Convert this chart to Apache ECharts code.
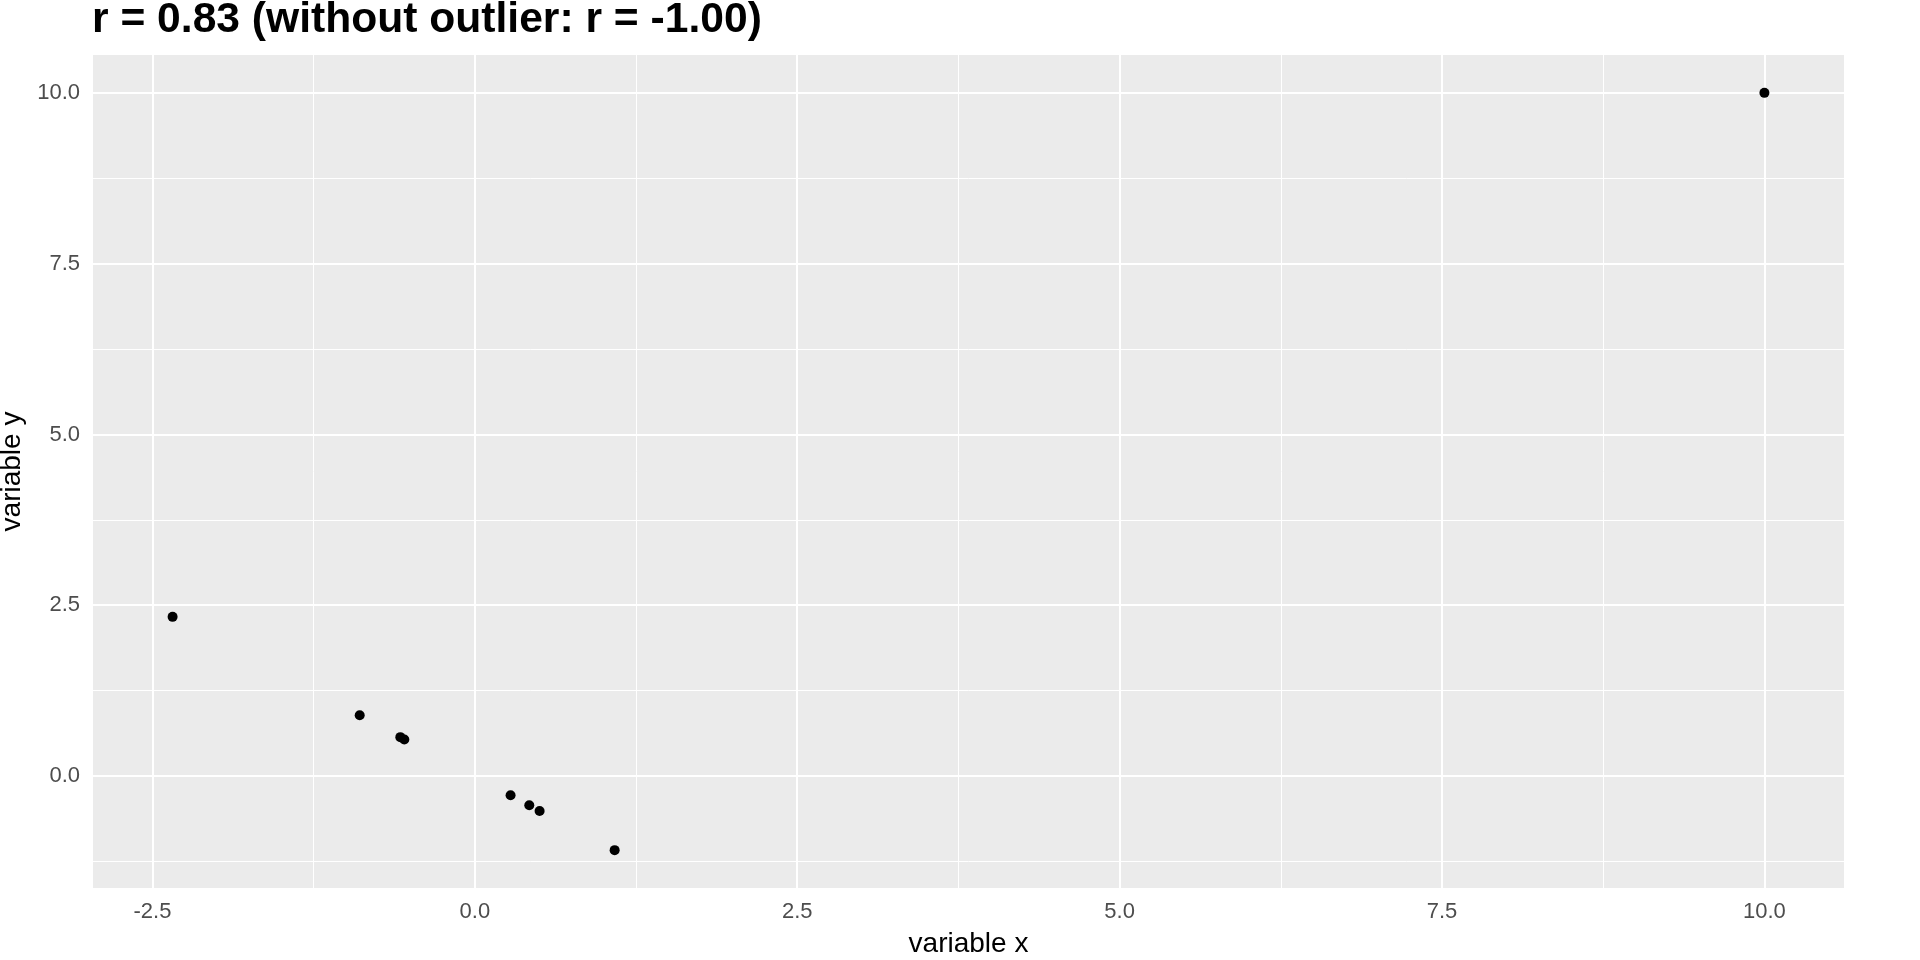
<!DOCTYPE html>
<html>
<head>
<meta charset="utf-8">
<script src="https://cdn.jsdelivr.net/npm/echarts@6/dist/echarts.min.js"></script>
<style>
html,body{margin:0;padding:0;background:#fff;}
#chart{width:1920px;height:960px;}
</style>
</head>
<body>
<div id="chart"></div>
<script>
// Data
const xValues = [-2.344, -0.893, -0.578, -0.547, 0.277, 0.422, 0.502, 1.084, 10.0];
const yValues = [2.33, 0.89, 0.569, 0.535, -0.282, -0.428, -0.511, -1.085, 10.0];
const xMajorTicks = [-2.5, 0, 2.5, 5, 7.5, 10];
const xMinorTicks = [-1.25, 1.25, 3.75, 6.25, 8.75];
const yMajorTicks = [0, 2.5, 5, 7.5, 10];
const yMinorTicks = [-1.25, 1.25, 3.75, 6.25, 8.75];
const titleText = 'r = 0.83 (without outlier: r = -1.00)';
const xTitle = 'variable x';
const yTitle = 'variable y';

const FONT = '"Liberation Sans", Arial, sans-serif';

// ggplot-style 5% expansion of the data range
function expand(vals) {
  const lo = Math.min(...vals), hi = Math.max(...vals);
  const pad = (hi - lo) * 0.05;
  return [lo - pad, hi + pad];
}
const xr = expand(xValues);
const yr = expand(yValues);

const points = xValues.map((x, i) => [x, yValues[i]]);

function gridLines(axisKey, vals, width) {
  return vals.map(v => ({ [axisKey]: v, lineStyle: { color: '#FFFFFF', width: width, type: 'solid' } }));
}

const chart = echarts.init(document.getElementById('chart'), null, { renderer: 'canvas' });
chart.setOption({
  animation: false,
  backgroundColor: '#FFFFFF',
  title: {
    text: titleText,
    left: 92,
    top: -1,
    padding: 0,
    textStyle: { fontFamily: FONT, fontSize: 42.6, fontWeight: 'bold', color: '#000000' }
  },
  grid: {
    left: 93, right: 76, top: 55, bottom: 72,
    containLabel: false,
    outerBoundsMode: 'none',
    show: true, backgroundColor: '#EBEBEB', borderWidth: 0
  },
  xAxis: {
    type: 'value',
    min: xr[0], max: xr[1],
    name: xTitle,
    nameLocation: 'middle',
    nameGap: 42,
    nameTextStyle: { fontFamily: FONT, fontSize: 28, color: '#000000' },
    axisLine: { show: false },
    axisTick: { show: true, customValues: xMajorTicks, length: 7, lineStyle: { color: '#333333', width: 1.5 } },
    axisLabel: {
      customValues: xMajorTicks,
      margin: 13,
      fontFamily: FONT, fontSize: 22, color: '#4D4D4D',
      formatter: v => Number(v).toFixed(1)
    },
    splitLine: { show: false },
    minorSplitLine: { show: false }
  },
  yAxis: {
    type: 'value',
    min: yr[0], max: yr[1],
    name: yTitle,
    nameLocation: 'middle',
    nameGap: 61,
    nameRotate: 90,
    nameTextStyle: { fontFamily: FONT, fontSize: 28, color: '#000000' },
    axisLine: { show: false },
    axisTick: { show: true, customValues: yMajorTicks, length: 7, lineStyle: { color: '#333333', width: 1.5 } },
    axisLabel: {
      customValues: yMajorTicks,
      margin: 13,
      fontFamily: FONT, fontSize: 22, color: '#4D4D4D',
      formatter: v => Number(v).toFixed(1)
    },
    splitLine: { show: false },
    minorSplitLine: { show: false }
  },
  series: [
    {
      name: 'grid',
      type: 'scatter',
      data: [],
      z: 1,
      silent: true,
      markLine: {
        silent: true,
        symbol: ['none', 'none'],
        label: { show: false },
        animation: false,
        data: [].concat(
          gridLines('xAxis', xMinorTicks, 1),
          gridLines('yAxis', yMinorTicks, 1),
          gridLines('xAxis', xMajorTicks, 2),
          gridLines('yAxis', yMajorTicks, 2)
        )
      }
    },
    {
      name: 'points',
      type: 'scatter',
      z: 5,
      data: points,
      symbol: 'circle',
      symbolSize: 10,
      itemStyle: { color: '#000000', opacity: 1 }
    }
  ]
});
</script>
</body>
</html>
